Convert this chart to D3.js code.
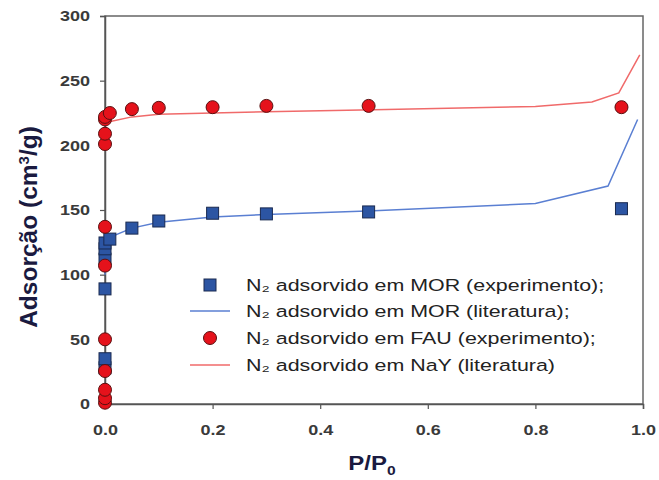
<!DOCTYPE html>
<html>
<head>
<meta charset="utf-8">
<script src="https://cdn.jsdelivr.net/npm/d3@7"></script>
<style>
  body { margin: 0; background: #fff; }
  text { font-family: "Liberation Sans", Arial, sans-serif; }
</style>
</head>
<body>
<div id="chart"></div>
<script>
// MOR experiment (squares)
var morExpX = [0, 0, 0, 0, 0, 0, 0.009, 0.05, 0.1, 0.2, 0.3, 0.49, 0.96];
var morExpY = [28, 35, 89, 112, 120, 124.5, 127.5, 136, 141.5, 147.5, 147, 148.5, 151];
// MOR literature (blue line)
var morLitX = [0, 0.003, 0.01, 0.05, 0.1, 0.2, 0.3, 0.5, 0.8, 0.935, 0.99];
var morLitY = [100, 125, 129, 136, 140.5, 144.5, 146.5, 149.5, 155, 168.5, 220];
// FAU experiment (circles)
var fauExpX = [0, 0, 0, 0, 0, 0, 0, 0, 0, 0, 0, 0.009, 0.05, 0.1, 0.2, 0.3, 0.49, 0.96];
var fauExpY = [1, 4.5, 11, 25.5, 50, 107, 137, 201, 209, 220, 222, 225, 228, 229, 229.5, 230.5, 230.5, 229.5];
// NaY literature (red line)
var nayLitX = [0, 0.01, 0.05, 0.1, 0.2, 0.3, 0.5, 0.8, 0.905, 0.955, 0.994];
var nayLitY = [216, 218.5, 222, 224, 225, 226, 227.5, 230, 233.5, 240.5, 270];

var xTicks = [0, 0.2, 0.4, 0.6, 0.8, 1.0];
var yTicks = [0, 50, 100, 150, 200, 250, 300];

var legendLabels = [
  "N\u2082 adsorvido em MOR (experimento);",
  "N\u2082 adsorvido em MOR (literatura);",
  "N\u2082 adsorvido em FAU (experimento);",
  "N\u2082 adsorvido em NaY (literatura)"
];

var width = 659, height = 480;
var margin = {left: 105, right: 16, top: 16, bottom: 76};

var svg = d3.select("#chart").append("svg")
  .attr("width", width)
  .attr("height", height);

var x = d3.scaleLinear().domain([0, 1]).range([margin.left, width - margin.right]);
var y = d3.scaleLinear().domain([0, 300]).range([height - margin.bottom, margin.top]);

var blue = "#2c55a3", blueLine = "#5a7fd2";
var red = "#e5121b", redLine = "#f06a6a";

// frame
svg.append("rect")
  .attr("x", x(0)).attr("y", y(300))
  .attr("width", x(1) - x(0)).attr("height", y(0) - y(300))
  .attr("fill", "none").attr("stroke", "#666").attr("stroke-width", 1.5);

// axes
var xAxis = svg.append("g")
  .attr("transform", "translate(0," + y(0) + ")")
  .call(d3.axisBottom(x).tickValues(xTicks).tickFormat(d3.format(".1f")).tickSize(5).tickPadding(15));
var yAxis = svg.append("g")
  .attr("transform", "translate(" + x(0) + ",0)")
  .call(d3.axisLeft(y).tickValues(yTicks).tickSize(5).tickPadding(10));

[xAxis, yAxis].forEach(function (g) {
  g.select(".domain").attr("stroke", "#555").attr("stroke-width", 1.5);
  g.selectAll(".tick line").attr("stroke", "#555").attr("stroke-width", 1.2);
  g.selectAll(".tick text")
    .attr("font-family", "Liberation Sans, Arial, sans-serif")
    .attr("font-size", 15).attr("font-weight", "bold").attr("fill", "#3a3a3a");
});
// the original text is a bit wider than plain Arial
xAxis.selectAll(".tick text").attr("transform", "scale(1.2,1)");
yAxis.selectAll(".tick text").each(function () {
  var t = d3.select(this), xv = +t.attr("x");
  t.attr("x", 0).attr("transform", "translate(" + xv + ",0) scale(1.2,1)");
});

// lines
var line = d3.line().x(function (d) { return x(d[0]); }).y(function (d) { return y(d[1]); });

svg.append("path")
  .datum(d3.zip(morLitX, morLitY))
  .attr("d", line).attr("fill", "none").attr("stroke", blueLine).attr("stroke-width", 1.5);
svg.append("path")
  .datum(d3.zip(nayLitX, nayLitY))
  .attr("d", line).attr("fill", "none").attr("stroke", redLine).attr("stroke-width", 1.5);

// squares
var sq = 12;
svg.append("g").selectAll("rect")
  .data(d3.zip(morExpX, morExpY))
  .join("rect")
  .attr("x", function (d) { return x(d[0]) - sq / 2; })
  .attr("y", function (d) { return y(d[1]) - sq / 2; })
  .attr("width", sq).attr("height", sq)
  .attr("fill", blue).attr("stroke", "#1a2a50").attr("stroke-width", 1);

// circles
svg.append("g").selectAll("circle")
  .data(d3.zip(fauExpX, fauExpY))
  .join("circle")
  .attr("cx", function (d) { return x(d[0]); })
  .attr("cy", function (d) { return y(d[1]); })
  .attr("r", 6.5)
  .attr("fill", red).attr("stroke", "#5a1010").attr("stroke-width", 1);

// legend
var legY = [285, 311, 338, 365];
var leg = svg.append("g");
legendLabels.forEach(function (t, i) {
  var cy = legY[i];
  if (i === 0) {
    leg.append("rect").attr("x", 204).attr("y", cy - 6).attr("width", 12).attr("height", 12)
      .attr("fill", blue).attr("stroke", "#1a2a50");
  } else if (i === 2) {
    leg.append("circle").attr("cx", 210).attr("cy", cy).attr("r", 6.5)
      .attr("fill", red).attr("stroke", "#5a1010");
  } else {
    leg.append("line").attr("x1", 190).attr("x2", 230).attr("y1", cy).attr("y2", cy)
      .attr("stroke", i === 1 ? blueLine : redLine).attr("stroke-width", 1.5);
  }
  leg.append("text")
    .attr("transform", "translate(246," + cy + ") scale(1.26,1)")
    .attr("dy", "0.35em")
    .attr("font-size", 17).attr("fill", "#222")
    .text(t);
});

// axis titles
svg.append("text")
  .attr("transform", "translate(37," + 227 + ") rotate(-90)")
  .attr("text-anchor", "middle")
  .attr("font-size", 24.5).attr("font-weight", "bold").attr("fill", "#1a1a40")
  .html("Adsor\u00e7\u00e3o (cm<tspan dy='-8' font-size='15'>3</tspan><tspan dy='8'>/g)</tspan>");

svg.append("text")
  .attr("transform", "translate(372,470) scale(1.2,1)")
  .attr("text-anchor", "middle")
  .attr("font-size", 20).attr("font-weight", "bold").attr("fill", "#1a1a40")
  .html("P/P<tspan dy='5' font-size='13'>0</tspan>");
</script>
</body>
</html>
